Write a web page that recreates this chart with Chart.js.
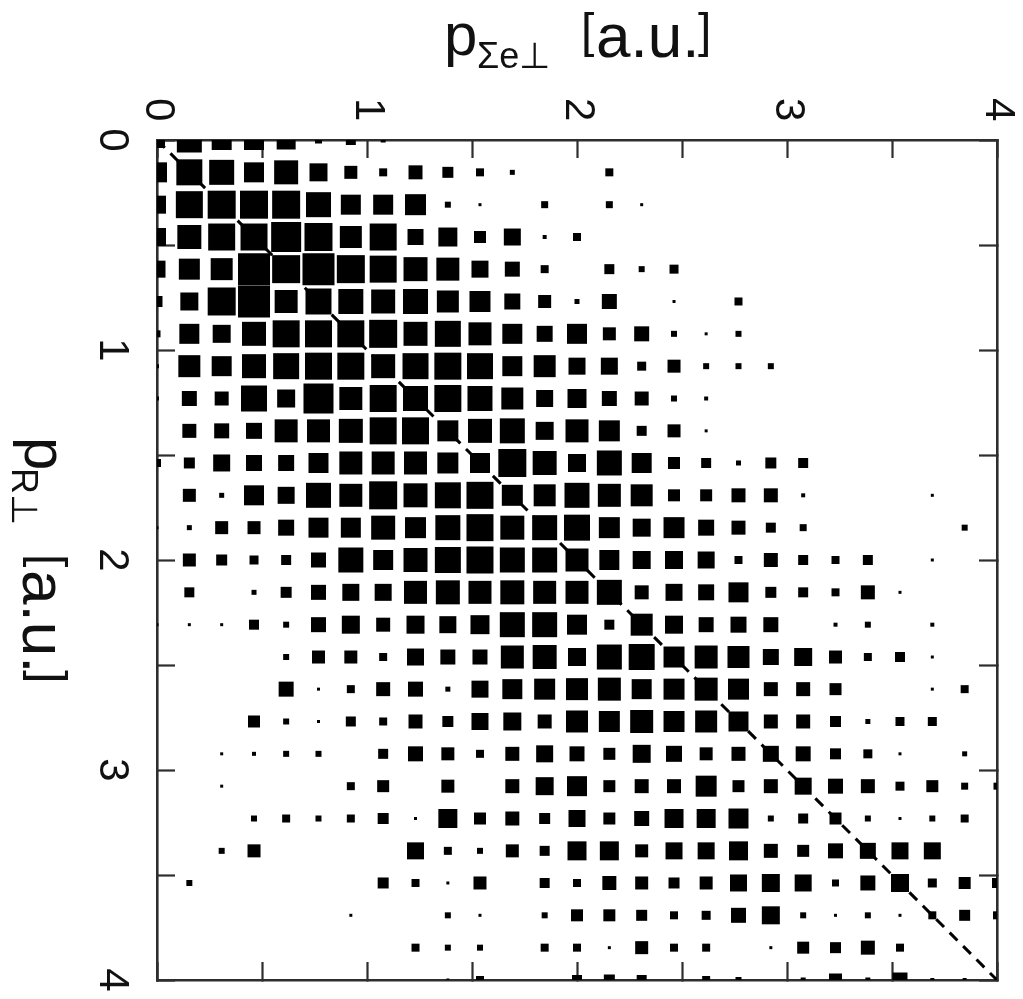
<!DOCTYPE html>
<html>
<head>
<meta charset="utf-8">
<style>
html,body{margin:0;padding:0;background:#fff;overflow:hidden}
canvas{display:block;filter:blur(0.45px)}
</style>
<script src="https://cdn.jsdelivr.net/npm/chart.js@4"></script>
</head>
<body>
<canvas id="c" width="1023" height="999"></canvas>
<script>
// Bin positions shared by both momentum axes [a.u.]
const binPositions = [0,0.154,0.308,0.462,0.615,0.769,0.923,1.077,1.231,1.385,1.538,1.692,1.846,2,2.154,2.308,2.462,2.615,2.769,2.923,3.077,3.231,3.385,3.538,3.692,3.846,4];
const tickLabels = ["0","1","2","3","4"];
const xTitle = {main:"p", sub:"\u03A3e\u22A5", unit:"a.u."};
const yTitle = {main:"p", sub:"R\u22A5", unit:"a.u."};

// Box intensity per bin: one row per p_R bin, one column per p_Σe bin
const row00 = [16,25,20,20,19,7,10,5,0,0,0,0,0,0,0,0,0,0,0,0,0,0,0,0,0,0,0];
const row01 = [20,26,25,20,24,18,13,8,14,11,8,5,0,0,8,0,0,0,0,0,0,0,0,0,0,0,0];
const row02 = [18,27,28,28,28,25,20,20,21,6,3,0,7,0,7,3,0,0,0,0,0,0,0,0,0,0,0];
const row03 = [18,24,27,27,30,28,22,27,16,19,12,17,4,8,0,0,0,0,0,0,0,0,0,0,0,0,0];
const row04 = [17,21,22,32,28,32,28,27,24,23,17,15,8,0,10,6,9,0,0,0,0,0,0,0,0,0,0];
const row05 = [11,18,28,32,23,26,25,24,25,22,21,16,13,5,15,0,3,0,8,0,0,0,0,0,0,0,0];
const row06 = [7,20,18,24,27,27,27,28,24,26,23,20,16,20,13,15,6,3,6,0,0,0,0,0,0,0,0];
const row07 = [4,22,20,24,26,27,27,24,26,27,26,20,22,17,17,9,13,6,6,6,0,0,0,0,0,0,0];
const row08 = [4,15,14,26,18,30,23,27,25,27,25,22,17,19,15,14,6,4,0,0,0,0,0,0,0,0,0];
const row09 = [0,14,15,16,23,23,24,27,27,21,24,25,18,23,21,10,13,3,0,0,0,0,0,0,0,0,0];
const row10 = [8,11,17,16,16,20,23,23,23,21,20,28,24,18,25,20,12,10,5,11,10,0,0,0,0,0,0];
const row11 = [0,13,5,20,17,25,23,28,24,26,27,21,22,25,23,22,12,12,14,14,4,0,0,0,3,0,0];
const row12 = [3,5,13,13,16,20,20,24,21,25,27,24,25,26,21,18,21,16,14,10,7,0,0,0,0,6,0];
const row13 = [0,13,11,9,10,15,25,20,24,26,27,25,25,23,20,18,18,17,8,14,10,8,10,0,3,0,0];
const row14 = [0,10,0,5,11,15,17,17,23,24,23,24,23,23,25,14,17,16,20,11,10,8,14,3,0,0,0];
const row15 = [3,3,3,10,6,15,18,14,18,17,19,25,25,20,10,22,18,15,16,15,0,4,6,0,4,0,0];
const row16 = [0,0,0,0,6,13,13,8,17,15,15,23,24,18,25,26,21,23,22,16,18,13,8,10,3,0,0];
const row17 = [0,0,0,0,15,3,8,14,15,5,17,20,21,22,23,20,21,23,21,14,14,12,0,0,3,8,0];
const row18 = [0,0,0,12,6,3,10,8,14,11,17,18,14,22,21,23,21,22,20,14,14,11,5,9,9,0,0];
const row19 = [0,0,3,4,6,6,0,10,15,13,8,14,17,15,12,18,16,13,14,16,15,11,9,3,0,5,0];
const row20 = [0,0,3,0,0,0,8,12,0,13,0,14,18,20,12,14,14,21,12,14,17,15,14,9,12,7,7];
const row21 = [0,0,0,6,8,6,8,11,3,19,12,14,11,17,12,15,19,19,20,6,10,12,6,3,6,8,0];
const row22 = [0,0,6,13,0,0,0,0,17,8,6,13,10,19,19,13,17,17,19,14,12,15,16,17,17,0,0];
const row23 = [0,6,0,0,0,0,0,11,8,3,13,0,10,8,14,13,11,13,17,18,17,7,15,18,9,12,10];
const row24 = [0,0,0,0,0,0,3,0,0,6,3,0,6,12,12,11,8,9,15,18,6,3,6,3,8,11,8];
const row25 = [0,0,0,0,0,0,0,0,8,6,6,0,8,8,3,13,8,8,0,3,12,11,14,8,0,0,0];
const row26 = [0,0,0,0,0,0,0,0,0,3,8,0,0,10,11,10,0,8,6,0,5,13,5,15,4,4,0];
const rows = [row00,row01,row02,row03,row04,row05,row06,row07,row08,row09,row10,row11,row12,row13,row14,row15,row16,row17,row18,row19,row20,row21,row22,row23,row24,row25,row26];

const boxPoints = [];
rows.forEach((row, j) => row.forEach((v, i) => {
  if (v > 0) boxPoints.push({x: binPositions[i], y: binPositions[j], v});
}));
const diagonal = [{x: 0, y: 0}, {x: 4, y: 4}];

const FRAME = '#2e2e2e';
const fix = (w, h) => s => {
  if (w !== null) s.width = w;
  if (h !== null) s.height = h;
  s.paddingLeft = s.paddingRight = s.paddingTop = s.paddingBottom = 0;
};
const label = v => Number.isInteger(v) ? tickLabels[v] : '';
const noLabel = () => '';
const axis = (position, extra) => Object.assign({
  type: 'linear', position, min: 0, max: 4,
  grid: {drawOnChartArea: false, drawTicks: true, tickLength: -18, tickWidth: 2.2, tickColor: FRAME},
  border: {display: true, color: FRAME, width: 2.6}
}, extra);
const tickFont = {family: '"Liberation Sans"', size: 42};
const ticksOf = (callback, extra) => Object.assign({
  stepSize: 0.5, autoSkip: false, callback, color: '#111', font: tickFont, minRotation: -90, maxRotation: -90
}, extra);

const titles = {
  id: 'titles',
  afterDraw(chart) {
    const c = chart.ctx;
    // baseline is the main-letter baseline; the unit's brackets are a smaller, raised glyph as in the reference
    const run = (t, ax, ay, rot, subX, unitX, bracketL, bracketR) => {
      c.save();
      c.translate(ax, ay);
      c.rotate(rot);
      c.fillStyle = '#111';
      c.textBaseline = 'alphabetic';
      c.textAlign = 'left';
      c.font = '60px "Liberation Sans"';
      c.fillText(t.main, 0, 0);
      c.font = '36px "Liberation Sans"';
      c.fillText(t.sub, subX, 13);
      c.font = '62px "Liberation Sans"';
      c.fillText(t.unit, unitX, 2);
      c.font = '48px "Liberation Sans"';
      c.fillText('[', bracketL, -8);
      c.fillText(']', bracketR, -8);
      c.restore();
    };
    run(xTitle, 444, 55, 0, 33, 152, 137, 254);
    run(yTitle, 25, 437, Math.PI / 2, 31, 133, 117, 233);
  }
};

new Chart(document.getElementById('c'), {
  type: 'scatter',
  data: {datasets: [
    {
      label: 'diagonal', data: diagonal, showLine: true, pointRadius: 0, clip: 0,
      borderColor: '#000', borderWidth: 3, borderDash: [11, 8], order: 0
    },
    {
      label: 'counts', data: boxPoints, showLine: false, clip: 0, order: 1,
      pointStyle: 'rect', backgroundColor: '#000', borderWidth: 0,
      pointRadius: ctx => (ctx.raw ? ctx.raw.v : 0) * Math.SQRT1_2,
      pointHoverRadius: ctx => (ctx.raw ? ctx.raw.v : 0) * Math.SQRT1_2
    }
  ]},
  options: {
    responsive: false, animation: false,
    layout: {padding: 0, autoPadding: false},
    plugins: {legend: {display: false}, tooltip: {enabled: false}, title: {display: false}},
    scales: {
      x: axis('top', {afterFit: fix(null, 140), ticks: ticksOf(label, {padding: 60, labelOffset: -50})}),
      y: axis('left', {reverse: true, afterFit: fix(157, null), ticks: ticksOf(label, {padding: 52, crossAlign: 'center'})}),
      x2: axis('bottom', {afterFit: fix(null, 19), ticks: {stepSize: 0.5, autoSkip: false, callback: noLabel, maxRotation: 0, padding: 0}}),
      y2: axis('right', {reverse: true, afterFit: fix(26, null), ticks: {stepSize: 0.5, autoSkip: false, callback: noLabel, padding: 0}})
    }
  },
  plugins: [titles]
});
</script>
</body>
</html>
